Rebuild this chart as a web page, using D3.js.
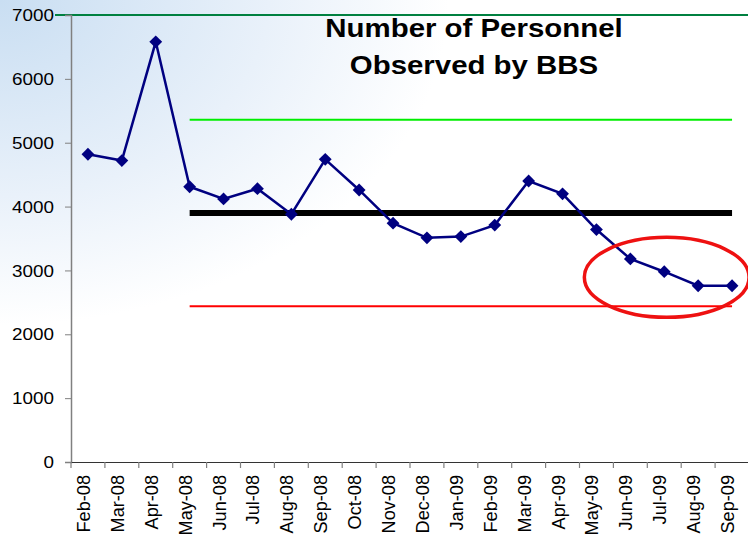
<!DOCTYPE html>
<html>
<head>
<meta charset="utf-8">
<script src="https://cdn.jsdelivr.net/npm/d3@7"></script>
<style>
  html, body { margin: 0; padding: 0; background: #fff; }
  svg { display: block; font-family: "Liberation Sans", Arial, sans-serif; }
</style>
</head>
<body>
<div id="chart"></div>
<script>
// monthly counts of personnel observed
const months = ["Feb-08", "Mar-08", "Apr-08", "May-08", "Jun-08", "Jul-08", "Aug-08", "Sep-08",
    "Oct-08", "Nov-08", "Dec-08", "Jan-09", "Feb-09", "Mar-09", "Apr-09", "May-09",
    "Jun-09", "Jul-09", "Aug-09", "Sep-09"];
const observed = [4820, 4720, 6580, 4310, 4120, 4280, 3880, 4740, 4260, 3740,
    3510, 3530, 3710, 4400, 4200, 3640, 3180, 2980, 2760, 2760];

// control limits, drawn from May-08 to Sep-09
const limitStart = "May-08", limitEnd = "Sep-09";
const ucl = 5360, mean = 3900, lcl = 2440;
const yTicks = [0, 1000, 2000, 3000, 4000, 5000, 6000, 7000];

// circled months
const circled = ["Jun-09", "Sep-09"];
const circledLevel = [2760, 3180];

const width = 748, height = 542;
const margin = { top: 15, right: -1, bottom: 80, left: 71 };
const stretch = 1.11; // text in the original is a bit wide

const svg = d3.select("#chart").append("svg")
    .attr("width", width)
    .attr("height", height);

// soft blue backdrop fading to white
const defs = svg.append("defs");
const grad = defs.append("radialGradient")
    .attr("id", "bg")
    .attr("cx", "0%").attr("cy", "0%").attr("r", "80%");
grad.append("stop").attr("offset", "0%").attr("stop-color", "#c9def2");
grad.append("stop").attr("offset", "45%").attr("stop-color", "#e9f1fa");
grad.append("stop").attr("offset", "75%").attr("stop-color", "#ffffff");
svg.append("rect").attr("width", width).attr("height", height).attr("fill", "url(#bg)");

const x = d3.scaleBand()
    .domain(months)
    .range([margin.left, width - margin.right]);

const y = d3.scaleLinear()
    .domain([0, 7000])
    .range([height - margin.bottom, margin.top]);

const cx = m => x(m) + x.bandwidth() / 2;

// top border line at 7000
svg.append("line")
    .attr("x1", 55).attr("x2", width)
    .attr("y1", y(7000)).attr("y2", y(7000))
    .attr("stroke", "#008040")
    .attr("stroke-width", 2);

// y axis
const yAxis = svg.append("g")
    .attr("transform", `translate(${margin.left},0)`)
    .call(d3.axisLeft(y).tickValues(yTicks).tickSize(6).tickFormat(""));
yAxis.select(".domain").attr("stroke", "#808080").attr("stroke-width", 1.5);
yAxis.selectAll(".tick line").attr("stroke", "#808080");

svg.append("g")
    .selectAll("text")
    .data(yTicks)
    .join("text")
    .attr("transform", d => `translate(54,${y(d)}) scale(${stretch},1)`)
    .attr("dy", "0.36em")
    .attr("text-anchor", "end")
    .style("font-size", "17px")
    .attr("fill", "#000")
    .text(d => d);

// x axis
const xAxis = svg.append("g")
    .attr("transform", `translate(0,${y(0)})`)
    .call(d3.axisBottom(x).tickSize(0).tickFormat(""));
xAxis.select(".domain").attr("stroke", "#333").attr("stroke-width", 1.2);

svg.append("g")
    .selectAll("line")
    .data(months.concat(["end"]))
    .join("line")
    .attr("x1", (d, i) => margin.left + i * x.bandwidth())
    .attr("x2", (d, i) => margin.left + i * x.bandwidth())
    .attr("y1", y(0)).attr("y2", y(0) + 6)
    .attr("stroke", "#808080")
    .attr("stroke-width", 1.2);

svg.append("g")
    .selectAll("text")
    .data(months)
    .join("text")
    .attr("transform", d => `translate(${cx(d) + 2},${y(0) + 13}) rotate(-90) scale(1.1,${stretch})`)
    .attr("text-anchor", "end")
    .style("font-size", "16.5px")
    .attr("fill", "#000")
    .text(d => d);

// control limit lines
const limits = [
    { value: ucl, color: "#00ee00", w: 2 },
    { value: mean, color: "#000000", w: 6 },
    { value: lcl, color: "#ff0000", w: 2 }
];
svg.append("g")
    .selectAll("line")
    .data(limits)
    .join("line")
    .attr("x1", cx(limitStart)).attr("x2", cx(limitEnd))
    .attr("y1", d => y(d.value)).attr("y2", d => y(d.value))
    .attr("stroke", d => d.color)
    .attr("stroke-width", d => d.w);

// data line
const line = d3.line()
    .x((d, i) => cx(months[i]))
    .y(d => y(d));

svg.append("path")
    .datum(observed)
    .attr("d", line)
    .attr("fill", "none")
    .attr("stroke", "#000080")
    .attr("stroke-width", 2.5);

svg.append("g")
    .selectAll("path")
    .data(observed)
    .join("path")
    .attr("d", d3.symbol().type(d3.symbolDiamond2).size(105))
    .attr("transform", (d, i) => `translate(${cx(months[i])},${y(d)})`)
    .attr("fill", "#000080");

// red ring around the last months
const ex1 = cx(circled[0]) - 46, ex2 = cx(circled[1]) + 17;
svg.append("ellipse")
    .attr("cx", (ex1 + ex2) / 2)
    .attr("cy", (y(circledLevel[0]) + y(circledLevel[1])) / 2 + 5)
    .attr("rx", (ex2 - ex1) / 2)
    .attr("ry", 40)
    .attr("fill", "none")
    .attr("stroke", "#ee1111")
    .attr("stroke-width", 3.5);

// title
const title = svg.append("text")
    .attr("transform", `translate(474,0) scale(${stretch},1)`)
    .attr("text-anchor", "middle")
    .style("font-size", "26.5px")
    .style("font-weight", "bold")
    .attr("fill", "#000");
title.append("tspan").attr("x", 0).attr("y", 37).text("Number of Personnel");
title.append("tspan").attr("x", 0).attr("y", 74).text("Observed by BBS");
</script>
</body>
</html>
